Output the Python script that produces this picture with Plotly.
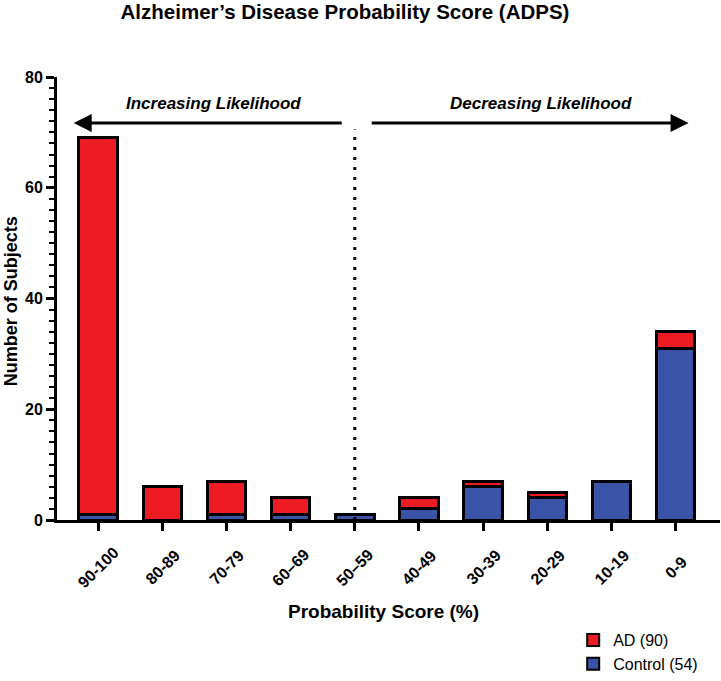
import plotly.graph_objects as go

categories = ["90-100", "80-89", "70-79", "60-69", "50-59", "40-49", "30-39", "20-29", "10-19", "0-9"]
tick_labels = ["90-100", "80-89", "70-79", "60–69", "50–59", "40-49", "30-39", "20-29", "10-19", "0-9"]
control_values = [1, 0, 1, 1, 1, 2, 6, 4, 7, 31]
ad_values = [68, 6, 6, 3, 0, 2, 1, 1, 0, 3]
y_ticks = [0, 20, 40, 60, 80]

RED = "#ED1C24"
BLUE = "#3A53A4"
FONT = "Arial, Liberation Sans, sans-serif"

fig = go.Figure()
fig.add_trace(go.Bar(
    x=categories, y=control_values, name="Control (54)",
    marker=dict(color=BLUE, line=dict(color="black", width=3)),
    width=0.6,
))
fig.add_trace(go.Bar(
    x=categories, y=ad_values, name="AD (90)",
    marker=dict(color=RED, line=dict(color="black", width=3)),
    width=0.6,
))

# dotted divider at the 50-59 category
fig.add_shape(type="line", xref="x", yref="y", x0=4, x1=4, y0=0, y1=70.5,
              line=dict(color="black", width=3, dash="3px,7px"), layer="above")

# arrows
fig.add_annotation(x=-0.38, y=71.7, ax=3.82, ay=71.7, xref="x", yref="y", axref="x", ayref="y",
                   showarrow=True, arrowhead=2, arrowsize=1.2, arrowwidth=3, arrowcolor="black", text="")
fig.add_annotation(x=9.2, y=71.7, ax=4.24, ay=71.7, xref="x", yref="y", axref="x", ayref="y",
                   showarrow=True, arrowhead=2, arrowsize=1.2, arrowwidth=3, arrowcolor="black", text="")
fig.add_annotation(x=1.8, y=75.3, xref="x", yref="y", showarrow=False,
                   text="<b><i>Increasing Likelihood</i></b>", font=dict(family=FONT, size=17, color="black"))
fig.add_annotation(x=6.9, y=75.3, xref="x", yref="y", showarrow=False,
                   text="<b><i>Decreasing Likelihood</i></b>", font=dict(family=FONT, size=17, color="black"))

# rotated category labels centred under the ticks
for cat, lab in zip(categories, tick_labels):
    fig.add_annotation(x=cat, y=0, xref="x", yref="paper", yshift=-47, showarrow=False,
                       text=f"<b>{lab}</b>", textangle=-45, xanchor="center", yanchor="middle",
                       font=dict(family=FONT, size=16, color="black"))

# axis titles
fig.add_annotation(x=0.493, y=0, xref="paper", yref="paper", yshift=-91, showarrow=False,
                   text="<b>Probability Score (%)</b>", xanchor="center", yanchor="middle",
                   font=dict(family=FONT, size=19, color="black"))
fig.add_annotation(x=(11 - 57) / 663, y=0.494, xref="paper", yref="paper", showarrow=False,
                   text="<b>Number of Subjects</b>", textangle=-90, xanchor="center", yanchor="middle",
                   font=dict(family=FONT, size=18, color="black"))

fig.update_layout(
    width=721, height=681,
    barmode="stack",
    plot_bgcolor="white", paper_bgcolor="white",
    margin=dict(l=57, r=1, t=77, b=161, autoexpand=False),
    font=dict(family=FONT, color="black"),
    title=dict(text="<b>Alzheimer’s Disease Probability Score (ADPS)</b>",
               x=345 / 721, xref="container", xanchor="center", y=1 - 12 / 681, yanchor="middle",
               font=dict(family=FONT, size=20.5, color="black")),
    legend=dict(x=0.795, y=0.085, xref="container", yref="container", xanchor="left", yanchor="top",
                traceorder="reversed", font=dict(family=FONT, size=16, color="black"),
                itemsizing="constant", tracegroupgap=0, bgcolor="rgba(0,0,0,0)"),
    showlegend=True,
)

fig.update_xaxes(
    type="category", range=[-0.64, 9.69],
    showline=True, linecolor="black", linewidth=3,
    ticks="outside", ticklen=8, tickwidth=3, tickcolor="black",
    showticklabels=False,
    showgrid=False, zeroline=False,
)
fig.update_yaxes(
    range=[0, 80], tickvals=y_ticks,
    showline=True, linecolor="black", linewidth=3,
    ticks="outside", ticklen=8, tickwidth=3, tickcolor="black",
    minor=dict(dtick=2, ticks="outside", ticklen=5, tickwidth=2, tickcolor="black", showgrid=False),
    tickfont=dict(family=FONT, size=16, color="black", weight="bold"),
    showgrid=False, zeroline=False,
)

fig.write_html("out.html", config={"displayModeBar": False},
               post_script="document.body.style.margin='0px';")
